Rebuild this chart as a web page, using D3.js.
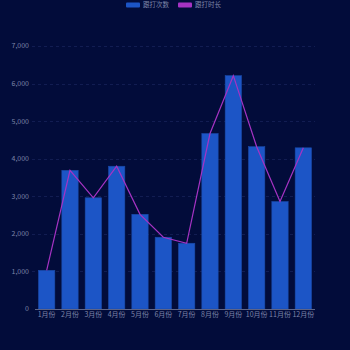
<!DOCTYPE html>
<html>
<head>
<meta charset="utf-8">
<script src="https://cdn.jsdelivr.net/npm/d3@7"></script>
<style>
  html, body { margin: 0; padding: 0; background: #020c3a; }
  svg { display: block; }
  text { font-family: "Noto Sans CJK SC", "DejaVu Sans", sans-serif; }
</style>
</head>
<body>
<svg id="chart" width="350" height="350"></svg>
<script>
// data
var months = ["1月份", "2月份", "3月份", "4月份", "5月份", "6月份", "7月份", "8月份", "9月份", "10月份", "11月份", "12月份"];
var countValues = [1030, 3690, 2960, 3800, 2520, 1910, 1750, 4670, 6210, 4320, 2860, 4290];
var durationValues = [1030, 3690, 2960, 3800, 2520, 1910, 1750, 4670, 6210, 4320, 2860, 4290];
var yTicks = [0, 1000, 2000, 3000, 4000, 5000, 6000, 7000];
var seriesNames = ["跟打次数", "跟打时长"];

var margin = { top: 46, right: 35, bottom: 41, left: 35 }
    , width = 350 - margin.left - margin.right
    , height = 350 - margin.top - margin.bottom;

var colors = {
    bar: "#1c55c6",
    barEdge: "#1a4aa8",
    line: "#a633c4",
    label: "#7d84a8",
    grid: "#121d52",
    axis: "#5d6488"
};

var svg = d3.select("#chart");
var g = svg.append("g")
    .attr("transform", "translate(" + margin.left + "," + margin.top + ")");

var x = d3.scaleBand()
    .domain(months)
    .range([0, width])
    .paddingInner(0.3)
    .paddingOuter(0.15);

var y = d3.scaleLinear()
    .domain([0, 7000])
    .range([height, 0]);

// grid
g.append("g")
    .selectAll("line")
    .data(yTicks.slice(1))
    .enter()
    .append("line")
    .attr("x1", -3)
    .attr("x2", width)
    .attr("y1", function (d) { return Math.round(y(d)) + 0.5; })
    .attr("y2", function (d) { return Math.round(y(d)) + 0.5; })
    .attr("stroke", colors.grid)
    .attr("stroke-dasharray", "3,3")
    .attr("stroke-width", 1);

// y labels
g.append("g")
    .selectAll("text")
    .data(yTicks)
    .enter()
    .append("text")
    .attr("x", -6)
    .attr("y", function (d) { return y(d); })
    .attr("dy", "0.35em")
    .attr("text-anchor", "end")
    .attr("fill", colors.label)
    .style("font-size", "7px")
    .text(function (d) { return d3.format(",")(d); });

// bars
g.append("g")
    .selectAll("rect")
    .data(countValues)
    .enter()
    .append("rect")
    .attr("x", function (d, i) { return x(months[i]); })
    .attr("y", function (d) { return y(d); })
    .attr("width", x.bandwidth())
    .attr("height", function (d) { return height - y(d); })
    .attr("fill", colors.bar)
    .attr("stroke", colors.barEdge)
    .attr("stroke-width", 0.6);

// x axis line
g.append("line")
    .attr("x1", 0)
    .attr("x2", width)
    .attr("y1", height + 0.5)
    .attr("y2", height + 0.5)
    .attr("stroke", colors.axis);

// x labels
g.append("g")
    .selectAll("text")
    .data(months)
    .enter()
    .append("text")
    .attr("x", function (d) { return x(d) + x.bandwidth() / 2; })
    .attr("y", height + 8)
    .attr("text-anchor", "middle")
    .attr("fill", colors.label)
    .style("font-size", "7px")
    .text(function (d) { return d; });

// line
var line = d3.line()
    .x(function (d, i) { return x(months[i]) + x.bandwidth() / 2; })
    .y(function (d) { return y(d); });

g.append("path")
    .datum(durationValues)
    .attr("d", line)
    .attr("fill", "none")
    .attr("stroke", colors.line)
    .attr("stroke-width", 1.2);

// legend
var legend = svg.append("g").attr("class", "legend");
var legendX = [126, 178];
var legendColors = [colors.bar, colors.line];
seriesNames.forEach(function (name, i) {
    legend.append("rect")
        .attr("x", legendX[i])
        .attr("y", 2.5)
        .attr("width", 14)
        .attr("height", 5)
        .attr("rx", 1)
        .attr("fill", legendColors[i]);
    legend.append("text")
        .attr("x", legendX[i] + 17)
        .attr("y", 5)
        .attr("dy", "0.35em")
        .attr("fill", colors.label)
        .style("font-size", "6.5px")
        .text(name);
});
</script>
</body>
</html>
